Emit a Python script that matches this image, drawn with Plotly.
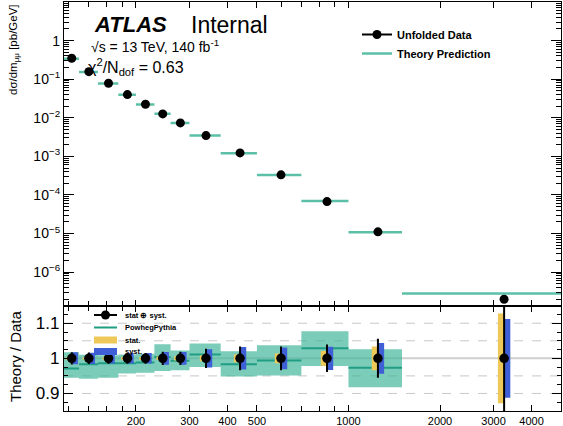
import math
import plotly.graph_objects as go

# Dimuon invariant-mass binning [GeV]
bin_edges = [116, 130, 150, 175, 200, 230, 260, 300, 380, 500, 700, 1000, 1500, 5000]

# Unfolded differential cross-section dσ/dm_μμ [pb/GeV]
data_xsec = [0.348, 0.157, 0.0783, 0.0399, 0.0224, 0.0126, 0.00738, 0.00346,
             0.00123, 3.32e-4, 6.75e-5, 1.11e-5, 1.99e-7]

# Theory / data per bin and the theory uncertainty envelope
theory_ratio = [0.971, 0.983, 0.986, 0.986, 0.988, 1.004, 0.993, 1.011,
                0.983, 0.994, 1.029, 0.973, 1.40]
theory_band_lo = [0.945, 0.942, 0.945, 0.957, 0.959, 0.964, 0.966, 0.975,
                  0.948, 0.951, 0.978, 0.918, 1.30]
theory_band_hi = [1.017, 1.010, 1.009, 1.011, 1.013, 1.040, 1.022, 1.042,
                  1.020, 1.037, 1.077, 1.026, 1.50]

# Relative data uncertainties
stat_unc = [0.003, 0.003, 0.003, 0.004, 0.004, 0.005, 0.006, 0.008,
            0.011, 0.014, 0.021, 0.034, 0.128]
syst_unc = [0.017, 0.016, 0.015, 0.015, 0.015, 0.018, 0.018, 0.026,
            0.032, 0.031, 0.033, 0.044, 0.112]

x_tick_vals = [200, 300, 400, 500, 1000, 2000, 3000, 4000]
x_tick_text = ["200", "300", "400", "500", "1000", "2000", "3000", "4000"]
x_minor_vals = [120, 140, 160, 180, 600, 700, 800, 900]
y_tick_vals = [1e-6, 1e-5, 1e-4, 1e-3, 1e-2, 1e-1, 1, 10]
y_tick_text = ["10<sup>−6</sup>", "10<sup>−5</sup>", "10<sup>−4</sup>", "10<sup>−3</sup>",
               "10<sup>−2</sup>", "10<sup>−1</sup>", "1", "10"]
ratio_tick_vals = [0.9, 1.0, 1.1]
ratio_tick_text = ["0.9", "1", "1.1"]
ratio_minor_vals = [0.875, 0.925, 0.95, 0.975, 1.025, 1.05, 1.075, 1.125]
ratio_grid_vals = [0.9, 0.95, 1.05, 1.1]

FONT = "Liberation Sans, Arial, Helvetica, sans-serif"
TEAL_LIGHT = "#5cbfa7"
TEAL = "#1f9e83"
BAND = "rgba(60,180,150,0.68)"
YELLOW = "#eec95a"
BLUE = "#3f5fd6"

n = len(data_xsec)
lo_edges = bin_edges[:-1]
hi_edges = bin_edges[1:]
centers = [(a + b) / 2 for a, b in zip(lo_edges, hi_edges)]
theory_xsec = [d * r for d, r in zip(data_xsec, theory_ratio)]
total_unc = [math.sqrt(s * s + y * y) for s, y in zip(stat_unc, syst_unc)]


def segments(values):
    xs, ys = [], []
    for a, b, v in zip(lo_edges, hi_edges, values):
        xs += [a, b, None]
        ys += [v, v, None]
    return xs, ys


def boxes(lows, highs):
    xs, ys = [], []
    for a, b, l, h in zip(lo_edges, hi_edges, lows, highs):
        xs += [a, b, b, a, a, None]
        ys += [l, l, h, h, l, None]
    return xs, ys


fig = go.Figure()

# ---- upper panel: spectrum ----
tx, ty = segments(theory_xsec)
fig.add_trace(go.Scatter(x=tx, y=ty, mode="lines", line=dict(color=TEAL_LIGHT, width=2.5),
                         showlegend=False, xaxis="x", yaxis="y", hoverinfo="skip"))
fig.add_trace(go.Scatter(x=centers, y=data_xsec, mode="markers",
                         marker=dict(color="black", size=9), showlegend=False,
                         xaxis="x", yaxis="y"))
# legend entries
fig.add_trace(go.Scatter(x=[None], y=[None], mode="lines+markers", name="Unfolded Data",
                         line=dict(color="black", width=2), marker=dict(color="black", size=9),
                         xaxis="x", yaxis="y"))
fig.add_trace(go.Scatter(x=[None], y=[None], mode="lines", name="Theory Prediction",
                         line=dict(color=TEAL_LIGHT, width=2.5), xaxis="x", yaxis="y"))

# ---- lower panel: ratio ----
bx, by = boxes(theory_band_lo, theory_band_hi)
fig.add_trace(go.Scatter(x=bx, y=by, mode="lines", fill="toself", fillcolor=BAND,
                         line=dict(width=0), showlegend=False, xaxis="x2", yaxis="y2",
                         hoverinfo="skip"))
rx, ry = segments(theory_ratio)
fig.add_trace(go.Scatter(x=rx, y=ry, mode="lines", line=dict(color=TEAL, width=2),
                         showlegend=False, xaxis="x2", yaxis="y2", hoverinfo="skip"))

px_per_decade = 497 / (math.log10(bin_edges[-1]) - math.log10(bin_edges[0]))
shift = 10 ** (3.2 / px_per_decade)
ones = [1.0] * n
fig.add_trace(go.Scatter(x=[c / shift for c in centers], y=ones, mode="markers",
                         marker=dict(size=1, opacity=0),
                         error_y=dict(type="data", array=stat_unc, color=YELLOW,
                                      thickness=6, width=0),
                         showlegend=False, xaxis="x2", yaxis="y2", hoverinfo="skip"))
fig.add_trace(go.Scatter(x=[c * shift for c in centers], y=ones, mode="markers",
                         marker=dict(size=1, opacity=0),
                         error_y=dict(type="data", array=syst_unc, color=BLUE,
                                      thickness=6, width=0),
                         showlegend=False, xaxis="x2", yaxis="y2", hoverinfo="skip"))
fig.add_trace(go.Scatter(x=centers, y=ones, mode="markers",
                         marker=dict(color="black", size=9.5),
                         error_y=dict(type="data", array=total_unc, color="black",
                                      thickness=2, width=0),
                         showlegend=False, xaxis="x2", yaxis="y2"))

# reference lines of the ratio panel
for g in ratio_grid_vals:
    fig.add_hline(y=g, line=dict(color="#c8c8c8", width=1, dash="dash"), layer="below",
                  xref="x2", yref="y2")
fig.add_hline(y=1.0, line=dict(color="#cfcfcf", width=2), layer="below",
              xref="x2", yref="y2")

# ---- axes ----
L, R, T, B = 64, 2, 2, 15
W, H = 563, 426
plot_h = H - T - B
split = 0.2575

x_range = [math.log10(bin_edges[0]), math.log10(bin_edges[-1])]
common_x = dict(type="log", range=x_range, showline=True, linecolor="black", linewidth=1.2,
                mirror="allticks", ticks="inside", ticklen=6, tickcolor="black",
                tickvals=x_tick_vals, ticktext=x_tick_text, showgrid=False, zeroline=False,
                automargin=False,
                minor=dict(tickvals=x_minor_vals, ticks="inside", ticklen=5, tickcolor="black"))

y_minor = [k * 10 ** e for e in range(-7, 1) for k in range(2, 10)]

fig.update_layout(
    width=W, height=H,
    margin=dict(l=L, r=R, t=T, b=B, autoexpand=False),
    paper_bgcolor="white", plot_bgcolor="white",
    font=dict(family=FONT, color="black"),
    xaxis=dict(common_x, anchor="y", domain=[0, 1], showticklabels=False, matches="x2"),
    xaxis2=dict(common_x, anchor="y2", domain=[0, 1], tickfont=dict(size=11)),
    yaxis=dict(type="log", range=[-6.868, 1.0], domain=[split, 1], anchor="x",
               showline=True, linecolor="black", linewidth=1.2, mirror="allticks",
               ticks="inside", ticklen=10, tickcolor="black",
               tickvals=y_tick_vals, ticktext=y_tick_text, showgrid=False, zeroline=False,
               tickfont=dict(size=14), automargin=False,
               minor=dict(tickvals=y_minor, ticks="inside", ticklen=5, tickcolor="black")),
    yaxis2=dict(range=[0.85, 1.15], domain=[0, split], anchor="x2",
                showline=True, linecolor="black", linewidth=1.2, mirror="allticks",
                ticks="inside", ticklen=9, tickcolor="black",
                tickvals=ratio_tick_vals, ticktext=ratio_tick_text,
                showgrid=False, zeroline=False, tickfont=dict(size=17), automargin=False,
                minor=dict(tickvals=ratio_minor_vals, ticks="inside", ticklen=4,
                           tickcolor="black")),
    legend=dict(x=(357 - L) / (W - L - R), y=(H - B - 20) / plot_h, xanchor="left",
                yanchor="top", bgcolor="rgba(0,0,0,0)", borderwidth=0,
                font=dict(size=11, weight="bold"), itemwidth=30, tracegroupgap=0),
    showlegend=True,
)


def px(xp):
    return (xp - L) / (W - L - R)


def py(yp):
    return (H - B - yp) / plot_h


# ---- labels ----
ann = []
ann.append(dict(text="dσ/dm<sub>μμ</sub> [pb/GeV]", x=px(14), y=py(50), textangle=-90,
                font=dict(size=11.5)))
ann.append(dict(text="Theory / Data", x=px(15), y=py(356), textangle=-90,
                font=dict(size=15)))
ann.append(dict(text="<b><i>ATLAS</i></b>", x=px(92), y=py(25), xanchor="left",
                font=dict(size=22)))
ann.append(dict(text="Internal", x=px(189), y=py(25), xanchor="left",
                font=dict(size=23)))
ann.append(dict(text="√s = 13 TeV, 140 fb<sup>-1</sup>", x=px(89), y=py(45.5), xanchor="left",
                font=dict(size=14)))
ann.append(dict(text="χ<sup>2</sup>/N<sub>dof</sub> = 0.63", x=px(86), y=py(67),
                xanchor="left", font=dict(size=16)))

# small legend inside the ratio panel
rows = [315, 327.5, 340, 351.5]
labels = ["stat ⊕ syst.", "PowhegPythia", "stat.", "syst."]
sx0, sx1, tx0 = 94, 117, 123
for yr, lab in zip(rows, labels):
    ann.append(dict(text=lab, x=px(tx0), y=py(yr), xanchor="left",
                    font=dict(size=7.5, weight="bold")))
for a in ann:
    a.setdefault("xref", "paper")
    a.setdefault("yref", "paper")
    a.setdefault("showarrow", False)
    a.setdefault("yanchor", "middle")
    a.setdefault("xanchor", "center")
fig.update_layout(annotations=ann)

half = 3.5 / plot_h
fig.add_shape(type="line", xref="paper", yref="paper", x0=px(sx0), x1=px(sx1),
              y0=py(rows[0]), y1=py(rows[0]), line=dict(color="black", width=2))
fig.add_shape(type="circle", xref="paper", yref="paper", xsizemode="pixel",
              ysizemode="pixel", xanchor=px((sx0 + sx1) / 2), yanchor=py(rows[0]),
              x0=-4.5, x1=4.5, y0=-4.5, y1=4.5, fillcolor="black", line=dict(width=0))
fig.add_shape(type="line", xref="paper", yref="paper", x0=px(sx0), x1=px(sx1),
              y0=py(rows[1]), y1=py(rows[1]), line=dict(color=TEAL, width=2))
fig.add_shape(type="rect", xref="paper", yref="paper", x0=px(sx0), x1=px(sx1),
              y0=py(rows[2]) - half, y1=py(rows[2]) + half, fillcolor=YELLOW,
              line=dict(width=0))
fig.add_shape(type="rect", xref="paper", yref="paper", x0=px(sx0), x1=px(sx1),
              y0=py(rows[3]) - half, y1=py(rows[3]) + half, fillcolor=BLUE,
              line=dict(width=0))

fig.write_html("out.html")
